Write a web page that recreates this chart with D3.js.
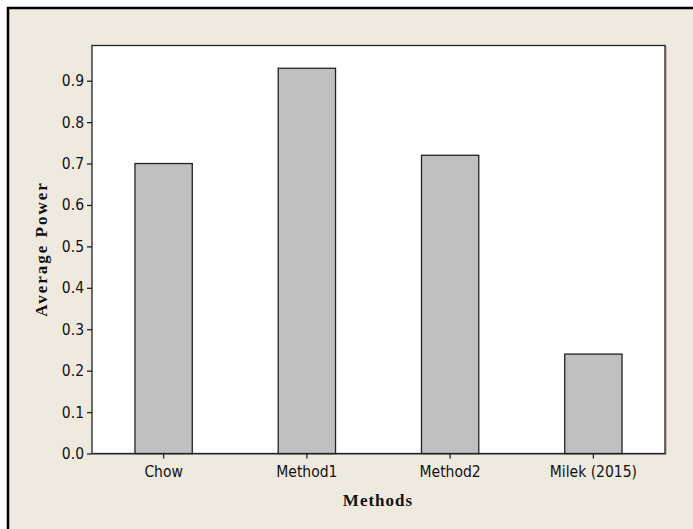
<!DOCTYPE html>
<html><head><meta charset="utf-8">
<script src="https://cdn.jsdelivr.net/npm/d3@7/dist/d3.min.js"></script>
<style>body{margin:0;background:#fff;} svg{display:block;}</style>
</head><body>
<script>
const categories = ["Chow", "Method1", "Method2", "Milek (2015)"];
const values = [0.70, 0.93, 0.72, 0.24];
const yTicks = [0.0, 0.1, 0.2, 0.3, 0.4, 0.5, 0.6, 0.7, 0.8, 0.9];
const xTitle = "Methods";
const yTitle = "Average Power";

(function () {
const W = 693, H = 529;
const svg = d3.select("body").append("svg").attr("width", W).attr("height", H);

// outer frame
svg.append("rect").attr("x", 8).attr("y", 8).attr("width", W).attr("height", H)
  .attr("fill", "#EEEAE0").attr("stroke", "#000").attr("stroke-width", 2.5);

const pLeft = 92, pRight = 665, pTop = 45.5, pBottom = 453.5;
const x = d3.scaleBand().domain(categories).range([pLeft, pRight]).paddingInner(0.6).paddingOuter(0.3);
const y = d3.scaleLinear().domain([0, 0.9]).range([pBottom, 80.7]);

// plot area with shadow
svg.append("rect").attr("x", pLeft + 1).attr("y", pTop + 1).attr("width", pRight - pLeft).attr("height", pBottom - pTop)
  .attr("fill", "none").attr("stroke", "#999").attr("stroke-width", 1);
svg.append("rect").attr("x", pLeft).attr("y", pTop).attr("width", pRight - pLeft).attr("height", pBottom - pTop)
  .attr("fill", "#fff").attr("stroke", "#222").attr("stroke-width", 1.3);

svg.append("g").selectAll("rect").data(values).join("rect")
  .attr("x", (d, i) => x(categories[i]))
  .attr("y", d => y(d))
  .attr("width", x.bandwidth())
  .attr("height", d => pBottom - y(d))
  .attr("fill", "#C0C0C0").attr("stroke", "#222").attr("stroke-width", 1.3);

const fontSans = "DejaVu Sans Condensed, DejaVu Sans";
const yAxis = svg.append("g").attr("transform", `translate(${pLeft},0)`)
  .call(d3.axisLeft(y).tickValues(yTicks).tickFormat(d3.format(".1f")).tickSize(5).tickPadding(3));
yAxis.select(".domain").remove();
yAxis.selectAll("line").attr("stroke", "#222").attr("stroke-width", 1.3);
yAxis.selectAll("text").attr("font-family", fontSans).attr("font-size", 15.5).attr("fill", "#111");

const xAxis = svg.append("g").attr("transform", `translate(0,${pBottom})`)
  .call(d3.axisBottom(x).tickSize(5).tickPadding(7));
xAxis.select(".domain").remove();
xAxis.selectAll("line").attr("stroke", "#222").attr("stroke-width", 1.3);
xAxis.selectAll("text").attr("font-family", fontSans).attr("font-size", 15.5).attr("fill", "#111");

svg.append("text").attr("x", 378).attr("y", 506).attr("text-anchor", "middle")
  .attr("font-family", "Liberation Serif, Times New Roman, serif").attr("font-weight", "bold")
  .attr("font-size", 17).attr("letter-spacing", 1).attr("fill", "#111").text(xTitle);

svg.append("text").attr("transform", "translate(47,249) rotate(-90)").attr("text-anchor", "middle")
  .attr("font-family", "Liberation Serif, Times New Roman, serif").attr("font-weight", "bold")
  .attr("font-size", 17).attr("letter-spacing", 2).attr("fill", "#111").text(yTitle);
})();
</script>
</body></html>
